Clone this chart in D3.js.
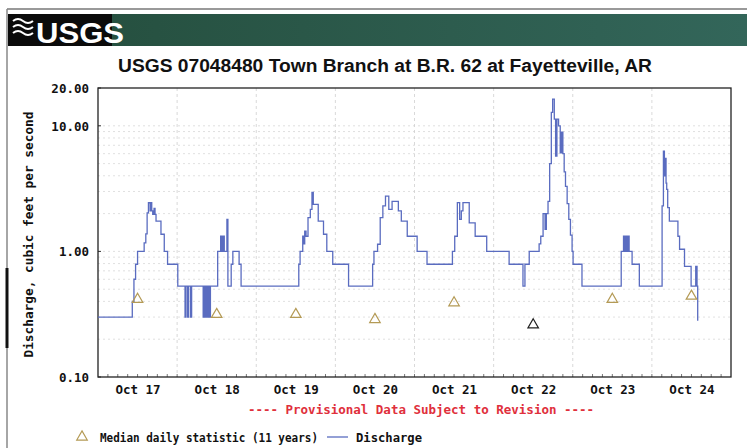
<!DOCTYPE html>
<html><head><meta charset="utf-8">
<script src="https://cdn.jsdelivr.net/npm/d3@7/dist/d3.min.js"></script>
<style>
html,body{margin:0;padding:0;background:#fff;}
svg{display:block;}
</style></head>
<body>
<svg id="chart" width="747" height="448"></svg>
<script>
// ---------- data ----------
const titleText = "USGS 07048480 Town Branch at B.R. 62 at Fayetteville, AR";
const xTickLabels = ["Oct 17","Oct 18","Oct 19","Oct 20","Oct 21","Oct 22","Oct 23","Oct 24"];
const xTickHours = [12, 36, 60, 84, 108, 132, 156, 180];
const dayBoundaryHours = [24, 48, 72, 96, 120, 144, 168];
const yTickValues = [0.1, 1, 10, 20];
const yTickLabels = ["0.10", "1.00", "10.00", "20.00"];
const medianHours = [12, 36, 60, 84, 108, 132, 156, 180];
const medianValues = [0.415, 0.315, 0.315, 0.287, 0.39, 0.26, 0.415, 0.44];
// discharge, hours since Oct 17 00:00 (step series)
const dischargeHours = [
  0, 10.4, 10.9, 11.4, 12.0, 14.0, 14.5, 14.9, 15.3, 15.8, 16.0, 16.3, 16.6, 17.0, 17.3, 17.6, 19.1, 20.1, 21.1, 24.2,
  26.4, 26.7, 27.2, 27.5, 28.1, 28.4, 31.9, 32.1, 32.3, 32.5, 32.7, 32.9, 33.1, 33.3, 33.5, 33.7, 33.9, 34.1,
  36.3, 37.2, 37.5, 37.9, 38.3, 39.1, 39.4, 40.4, 40.9, 42.8, 43.4,
  60.9, 61.3, 62.1, 62.4, 62.7, 63.1, 63.7, 64.4, 64.9, 65.3, 66.8, 68.4, 69.4, 71.2, 76.0,
  83.3, 83.7, 84.8, 85.6, 86.4, 87.2, 88.2, 89.2, 91.1, 92.0, 93.8, 96.8, 99.8,
  107.5, 108.2, 109.0, 109.7, 110.2, 110.7, 112.6, 114.4, 117.9, 124.7, 128.9, 129.5, 130.8,
  133.8, 134.3, 135.0, 135.6, 136.0, 136.5, 137.0, 137.5, 137.9, 138.4, 138.8, 139.2, 139.7, 140.2, 140.6,
  141.0, 141.4, 141.8, 142.3, 142.8, 143.3, 143.8, 144.1, 146.8,
  158.7, 159.4, 159.7, 160.1, 160.5, 160.8, 161.1, 162.0, 164.2,
  171.1, 171.5, 171.8, 172.0, 172.3, 172.5, 172.8, 173.3, 175.9, 176.4, 177.9, 179.9, 181.3, 181.7, 181.9
];
const dischargeValues = [
  0.30, 0.40, 0.60, 0.79, 1.0, 1.17, 1.38, 2.03, 2.44, 2.1, 2.44, 2.1, 1.97, 2.2, 1.97, 1.74, 1.37, 1.0, 0.79, 0.53,
  0.30, 0.53, 0.30, 0.53, 0.30, 0.53, 0.30, 0.53, 0.30, 0.53, 0.30, 0.53, 0.30, 0.53, 0.30, 0.53, 0.30, 0.53,
  1.0, 1.32, 1.0, 1.32, 1.0, 1.8, 0.53, 0.79, 1.0, 0.79, 0.53,
  0.79, 1.0, 1.32, 1.15, 1.45, 1.32, 1.86, 2.16, 2.95, 2.37, 1.74, 1.37, 1.0, 0.79, 0.53,
  0.79, 1.0, 1.14, 1.86, 2.3, 2.76, 2.16, 2.5, 2.1, 1.74, 1.32, 1.0, 0.79,
  1.0, 1.32, 2.45, 1.8, 2.1, 2.45, 1.69, 1.32, 1.0, 0.79, 0.53, 0.79, 1.0,
  1.15, 1.32, 2.0, 1.5, 2.0, 2.5, 5.0, 12.8, 16.3, 11.3, 5.75, 11.3, 10.0, 6.1, 8.9,
  6.0, 4.3, 3.3, 2.4, 1.8, 1.35, 1.0, 0.79, 0.53,
  1.0, 1.32, 1.0, 1.32, 1.0, 1.32, 1.0, 0.79, 0.53,
  2.3, 6.28, 4.0, 5.5, 3.5, 3.12, 2.23, 1.74, 1.32, 1.04, 0.76, 0.53, 0.76, 0.53, 0.28
];

// ---------- drawing ----------
const svg = d3.select("#chart");
const W = 747, H = 448;
const plot = {left: 98, right: 731, top: 88, bottom: 377};
const mono = "'DejaVu Sans Mono', monospace";

// outer frame
svg.append("line").attr("x1", 7).attr("x2", 747).attr("y1", 9).attr("y2", 9)
  .attr("stroke", "#777").attr("stroke-width", 1.5);
svg.append("line").attr("x1", 7).attr("x2", 7).attr("y1", 9).attr("y2", 448)
  .attr("stroke", "#888").attr("stroke-width", 1.5);
svg.append("line").attr("x1", 7).attr("x2", 7).attr("y1", 268).attr("y2", 348)
  .attr("stroke", "#111").attr("stroke-width", 3);

// banner
const grad = svg.append("defs").append("linearGradient").attr("id", "bannerGrad");
grad.append("stop").attr("offset", "0%").attr("stop-color", "#244d3c");
grad.append("stop").attr("offset", "100%").attr("stop-color", "#33665a");
svg.append("rect").attr("x", 8).attr("y", 14).attr("width", 739).attr("height", 32)
  .attr("fill", "url(#bannerGrad)");
svg.append("rect").attr("x", 8).attr("y", 14).attr("width", 104).attr("height", 32)
  .attr("fill", "#0b0b0b");
// wave logo
const logo = svg.append("g").attr("fill", "none").attr("stroke", "#fff").attr("stroke-width", 2);
[0, 6, 12].forEach(d => {
  logo.append("path").attr("d", `M13,${21 + d} q5,-4 10,0 t10,0`);
});
svg.append("text").attr("x", 36).attr("y", 43).text("USGS")
  .attr("fill", "#fff").attr("font-family", "'Liberation Sans Narrow','Liberation Sans',Arial,sans-serif")
  .attr("font-weight", "bold").attr("font-size", 30)
  .attr("textLength", 88).attr("lengthAdjust", "spacingAndGlyphs");

// title
svg.append("text").attr("x", 385).attr("y", 72).attr("text-anchor", "middle")
  .text(titleText).attr("font-family", "'Liberation Sans',Arial,sans-serif")
  .attr("font-size", 17.5).attr("font-weight", "bold").attr("fill", "#111")
  .attr("textLength", 534).attr("lengthAdjust", "spacingAndGlyphs");

// scales
const x = d3.scaleLinear().domain([0, 192]).range([plot.left, plot.right]);
const y = d3.scaleLog().domain([0.1, 20]).range([plot.bottom, plot.top]);

// grid
const gridG = svg.append("g");
const minorVals = [];
[0.1, 1, 10].forEach(dec => { for (let k = 2; k <= 9; k++) if (dec * k < 20) minorVals.push(dec * k); });
gridG.selectAll("line.h").data(minorVals.concat([1, 10])).join("line")
  .attr("x1", plot.left).attr("x2", plot.right)
  .attr("y1", d => y(d)).attr("y2", d => y(d))
  .attr("stroke", "#d8d8d8").attr("stroke-width", 0.8).attr("stroke-dasharray", "2,3");
gridG.selectAll("line.v").data(dayBoundaryHours).join("line")
  .attr("x1", d => x(d)).attr("x2", d => x(d))
  .attr("y1", plot.top).attr("y2", plot.bottom)
  .attr("stroke", "#cfcfcf").attr("stroke-width", 0.8).attr("stroke-dasharray", "3,3");

// axes
const xAxis = d3.axisBottom(x).tickValues(xTickHours).tickSize(0)
  .tickFormat((d, i) => xTickLabels[i]);
const gx = svg.append("g").attr("transform", `translate(0,${plot.bottom})`).call(xAxis);
gx.select(".domain").remove();
gx.selectAll("text").attr("dy", 0).attr("y", 17)
  .attr("font-family", mono).attr("font-weight", "bold").attr("font-size", 12.5).attr("fill", "#111");

const minorX = d3.range(3, 192, 3);
svg.append("g").selectAll("line").data(minorX).join("line")
  .attr("x1", d => x(d)).attr("x2", d => x(d))
  .attr("y1", plot.bottom).attr("y2", plot.bottom - 3)
  .attr("stroke", "#555").attr("stroke-width", 0.8);

const yAxis = d3.axisLeft(y).tickValues(yTickValues).tickSize(0)
  .tickFormat((d, i) => yTickLabels[i]);
const gy = svg.append("g").attr("transform", `translate(${plot.left - 9},0)`).call(yAxis);
gy.select(".domain").remove();
gy.selectAll("text").attr("x", 0).attr("dy", "0.35em")
  .attr("font-family", mono).attr("font-weight", "bold").attr("font-size", 12.5).attr("fill", "#111");

svg.append("g").selectAll("line").data(yTickValues).join("line")
  .attr("x1", plot.left).attr("x2", plot.left + 3)
  .attr("y1", d => y(d)).attr("y2", d => y(d)).attr("stroke", "#333");

// y axis title
svg.append("text").attr("transform", `translate(33,${(plot.top + plot.bottom) / 2 + 2}) rotate(-90)`)
  .attr("text-anchor", "middle").text("Discharge, cubic feet per second")
  .attr("font-family", mono).attr("font-weight", "bold").attr("font-size", 11.5).attr("fill", "#111")
  .attr("textLength", 246).attr("lengthAdjust", "spacingAndGlyphs");

// frame
svg.append("rect").attr("x", plot.left).attr("y", plot.top)
  .attr("width", plot.right - plot.left).attr("height", plot.bottom - plot.top)
  .attr("fill", "none").attr("stroke", "#222").attr("stroke-width", 1.3);

// discharge line
const series = dischargeHours.map((h, i) => ({h, v: dischargeValues[i]}));
const line = d3.line().x(d => x(d.h)).y(d => y(d.v)).curve(d3.curveStepAfter);
svg.append("path").datum(series).attr("d", line)
  .attr("fill", "none").attr("stroke", "#5a6cc0").attr("stroke-width", 1.3);

// median triangles
const tri = d3.symbol().type(d3.symbolTriangle).size(48);
svg.append("g").selectAll("path").data(medianHours.map((h, i) => ({h, v: medianValues[i], i}))).join("path")
  .attr("d", tri)
  .attr("transform", d => `translate(${x(d.h)},${y(d.v)})`)
  .attr("fill", "none").attr("stroke", d => d.i === 5 ? "#222" : "#b49a55").attr("stroke-width", 1.2);

// provisional note
svg.append("text").attr("x", 421).attr("y", 414).attr("text-anchor", "middle")
  .text("---- Provisional Data Subject to Revision ----")
  .attr("font-family", mono).attr("font-weight", "bold").attr("font-size", 12.5).attr("fill", "#e0303c");

// legend
svg.append("path").attr("d", tri).attr("transform", "translate(82,437)")
  .attr("fill", "none").attr("stroke", "#b49a55").attr("stroke-width", 1.2);
svg.append("text").attr("x", 100).attr("y", 442).text("Median daily statistic (11 years)")
  .attr("font-family", mono).attr("font-weight", "bold").attr("font-size", 11.5).attr("fill", "#111")
  .attr("textLength", 218).attr("lengthAdjust", "spacingAndGlyphs");
svg.append("line").attr("x1", 327).attr("x2", 348).attr("y1", 437).attr("y2", 437)
  .attr("stroke", "#5a6cc0").attr("stroke-width", 1.3);
svg.append("text").attr("x", 356).attr("y", 442).text("Discharge")
  .attr("font-family", mono).attr("font-weight", "bold").attr("font-size", 11.5).attr("fill", "#111")
  .attr("textLength", 66).attr("lengthAdjust", "spacingAndGlyphs");
</script>
</body></html>
